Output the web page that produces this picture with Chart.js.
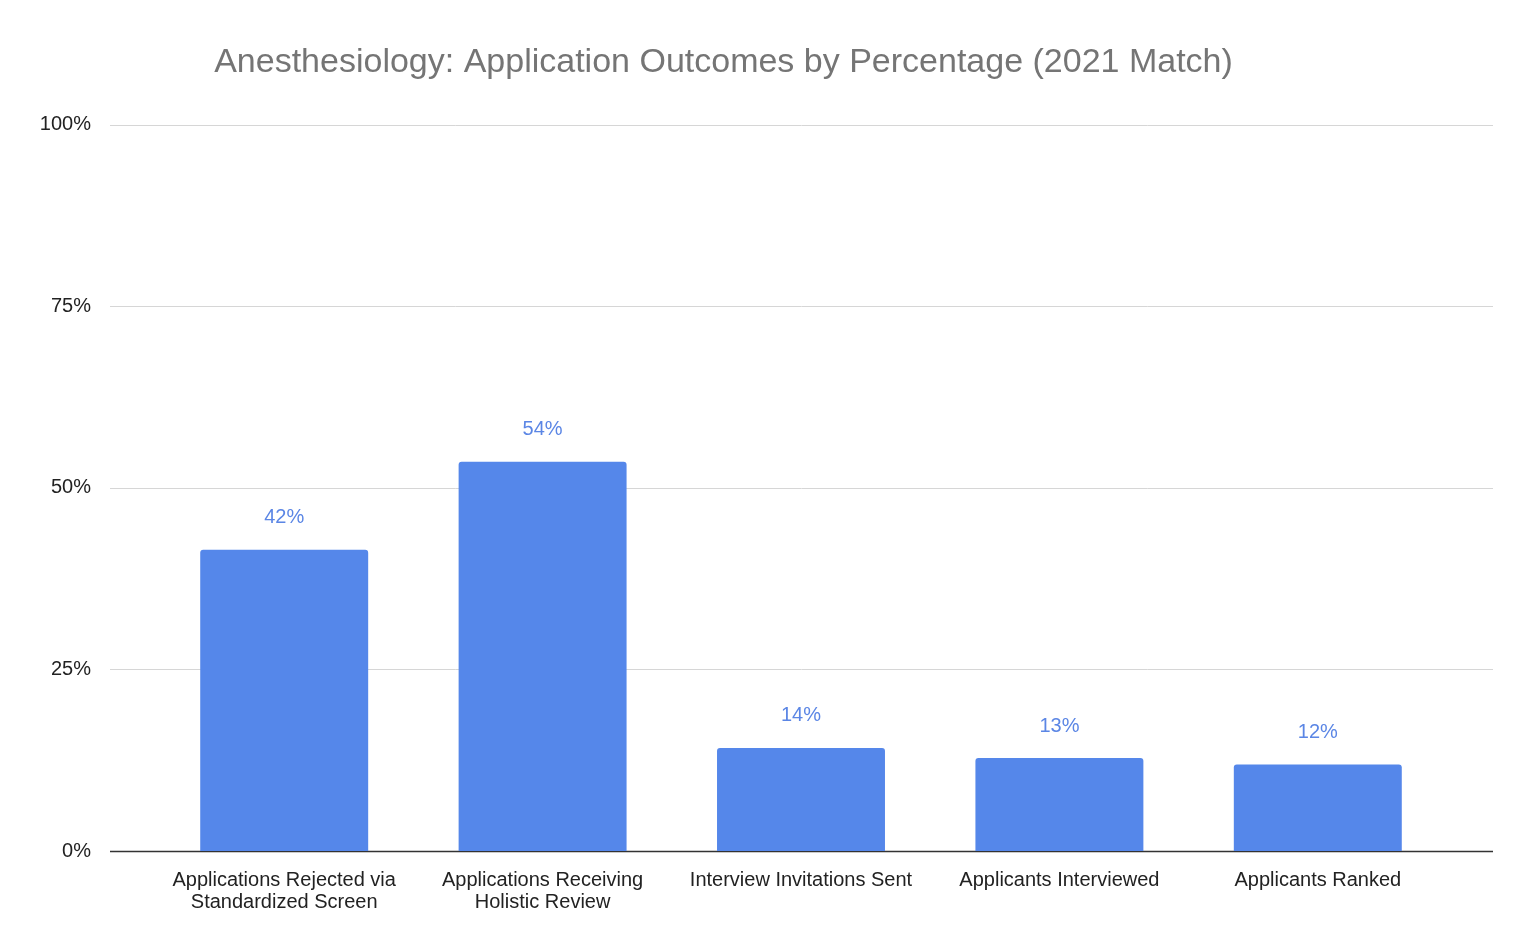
<!DOCTYPE html>
<html>
<head>
<meta charset="utf-8">
<script src="https://cdn.jsdelivr.net/npm/chart.js@4"></script>
<style>
  html, body { margin: 0; padding: 0; background: #fff; }
  #wrap { width: 1536px; height: 947px; }
</style>
</head>
<body>
<div id="wrap"><canvas id="chart"></canvas></div>
<script>
// Chart data
const categories = [
  ['Applications Rejected via', 'Standardized Screen'],
  ['Applications Receiving', 'Holistic Review'],
  'Interview Invitations Sent',
  'Applicants Interviewed',
  'Applicants Ranked'
];
const outcomePct = [41.5, 53.6, 14.2, 12.8, 11.9];
const yTicks = [0, 25, 50, 75, 100];

const FONT = 'Liberation Sans, Arial, sans-serif';
const GRID_LEFT = 110, GRID_RIGHT = 1493;

// gridlines span wider than the category area, so draw them by hand
const wideGrid = {
  id: 'wideGrid',
  beforeDatasetsDraw(chart) {
    const ctx = chart.ctx;
    const y = chart.scales.y;
    ctx.save();
    yTicks.forEach(v => {
      const py = Math.round(y.getPixelForValue(v)) + 0.5;
      ctx.strokeStyle = v === 0 ? '#333' : '#d6d6d6';
      ctx.lineWidth = v === 0 ? 1.5 : 1;
      ctx.beginPath();
      ctx.moveTo(GRID_LEFT, py);
      ctx.lineTo(GRID_RIGHT, py);
      ctx.stroke();
    });
    ctx.restore();
  }
};

// draw the % value above each bar
const valueLabels = {
  id: 'valueLabels',
  afterDatasetsDraw(chart) {
    const ctx = chart.ctx;
    const meta = chart.getDatasetMeta(0);
    ctx.save();
    ctx.font = '20px ' + FONT;
    ctx.fillStyle = '#5b86e5';
    ctx.textAlign = 'center';
    ctx.textBaseline = 'bottom';
    meta.data.forEach((bar, i) => {
      ctx.fillText(Math.round(outcomePct[i]) + '%', bar.x, bar.y - 22);
    });
    ctx.restore();
  }
};

new Chart(document.getElementById('chart'), {
  type: 'bar',
  data: {
    labels: categories,
    datasets: [{
      data: outcomePct,
      backgroundColor: '#5587ea',
      borderRadius: { topLeft: 3, topRight: 3 },
      borderSkipped: 'bottom',
      barPercentage: 0.65,
      categoryPercentage: 1.0
    }]
  },
  options: {
    responsive: true,
    maintainAspectRatio: false,
    animation: false,
    layout: { padding: { left: 0, right: 89, top: 0, bottom: 0 } },
    plugins: {
      legend: { display: false },
      tooltip: { enabled: false },
      title: {
        display: true,
        text: 'Anesthesiology: Application Outcomes by Percentage (2021 Match)',
        color: '#757575',
        font: { size: 34, family: FONT, weight: 'normal' },
        padding: { top: 42, bottom: 42 }
      }
    },
    scales: {
      x: {
        grid: { display: false },
        border: { display: false },
        afterFit(scale) { scale.height = 96; },
        ticks: {
          color: '#222',
          font: { size: 20, family: FONT, lineHeight: 1.1 },
          maxRotation: 0,
          autoSkip: false,
          padding: 10
        }
      },
      y: {
        min: 0, max: 100,
        afterBuildTicks(axis) { axis.ticks = yTicks.map(v => ({ value: v })); },
        afterFit(scale) { scale.width = 155; },
        grid: { display: false },
        border: { display: false },
        ticks: {
          color: '#222',
          padding: 56,
          font: { size: 20, family: FONT },
          callback: v => v + '%'
        }
      }
    }
  },
  plugins: [wideGrid, valueLabels]
});
</script>
</body>
</html>
